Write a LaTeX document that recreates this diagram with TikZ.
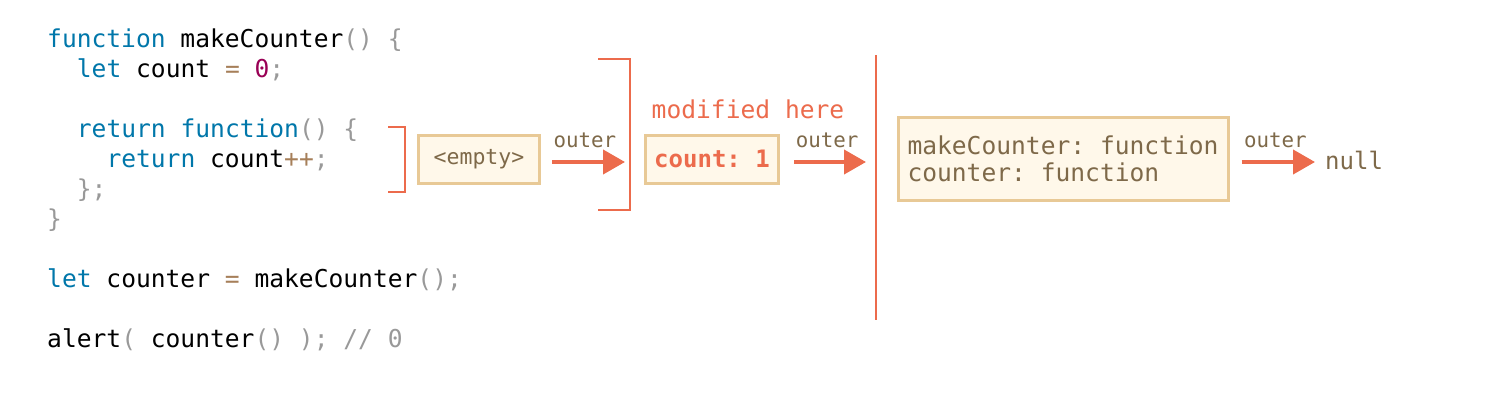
\documentclass[tikz,border=0pt]{standalone}
\usepackage{fontspec}
\setmonofont{DejaVu Sans Mono}
\usetikzlibrary{arrows.meta}
\definecolor{kw}{HTML}{0077AA}
\definecolor{pn}{HTML}{999999}
\definecolor{op}{HTML}{A67F59}
\definecolor{nm}{HTML}{990055}
\definecolor{accent}{HTML}{EC6B4C}
\definecolor{boxline}{HTML}{E8C996}
\definecolor{boxfill}{HTML}{FFF8EA}
\definecolor{brown}{HTML}{7E6949}
\newcommand{\K}[1]{\textcolor{kw}{#1}}
\newcommand{\Pn}[1]{\textcolor{pn}{#1}}
\newcommand{\Op}[1]{\textcolor{op}{#1}}
\newcommand{\Nm}[1]{\textcolor{nm}{#1}}
\tikzset{
  code/.style={anchor=base west, inner sep=0pt, font=\ttfamily\fontsize{24.6}{27}\selectfont, text=black},
  envbox/.style={draw=boxline, fill=boxfill, line width=3pt, inner sep=0pt},
  bracket/.style={draw=accent, line width=2pt},
  link/.style={draw=accent, line width=4pt, -{Triangle[length=22pt,width=24pt]}},
  lbl/.style={inner sep=0pt, text=brown, font=\ttfamily\fontsize{20.8}{22}\selectfont},
}
\begin{document}
\begin{tikzpicture}[x=1pt,y=-1pt]
\path[use as bounding box, fill=white] (0,0) rectangle (1503,402);
% code
\node[code] (l1) at (47,47) {\K{function} makeCounter\Pn{()} \Pn{\{}};
\node[code] (l2) at (76.7,77) {\K{let} count \Op{=} \Nm{0}\Pn{;}};
\node[code] (l4) at (76.7,137) {\K{return} \K{function}\Pn{()} \Pn{\{}};
\node[code] (l5) at (106.3,167) {\K{return} count\Op{++}\Pn{;}};
\node[code] (l6) at (76.7,197) {\Pn{\};}};
\node[code] (l7) at (47,227) {\Pn{\}}};
\node[code] (l9) at (47,287) {\K{let} counter \Op{=} makeCounter\Pn{();}};
\node[code] (l11) at (47,347) {alert\Pn{(} counter\Pn{()} \Pn{);} \Pn{// 0}};
% bracket 1
\coordinate (b1t) at (405,127);
\coordinate (b1b) at (405,192);
\draw[bracket] (388,127) -- (b1t) -- (b1b) -- (388,192);
% bracket 2
\coordinate (b2t) at (630,59);
\coordinate (b2b) at (630,210);
\coordinate (b2m) at (630,162);
\draw[bracket] (598,59) -- (b2t) -- (b2b) -- (598,210);
% vertical line
\coordinate (vt) at (876,55);
\coordinate (vb) at (876,320);
\coordinate (vm) at (876,162);
\draw[bracket] (vt) -- (vb);
% boxes
\node[envbox, minimum width=121pt, minimum height=48pt] (e1) at (479,159)
  {\color{brown}\ttfamily\fontsize{21.5}{23}\selectfont <empty>};
\node[envbox, minimum width=133pt, minimum height=48pt] (e2) at (712,159)
  {\color{accent}\ttfamily\bfseries\fontsize{24}{26}\selectfont count: 1};
\node[inner sep=0pt, text=accent, font=\ttfamily\fontsize{24.6}{27}\selectfont] (mod) at (748,109) {modified here};
\node[envbox, minimum width=330pt, minimum height=83pt, align=left, text=brown,
  font=\ttfamily\fontsize{24.6}{27}\selectfont] (e3) at (1063,158.5)
  {makeCounter: function\\counter: function\hspace*{4\fontcharwd\font`a}};
\node[inner sep=0pt, anchor=west, text=brown, font=\ttfamily\fontsize{24}{26}\selectfont] (null) at (1325,160) {null};
% arrows
\draw[link] ([xshift=11pt]e1.east |- b2m) -- ([xshift=-5pt]b2m) node[lbl, pos=0.45, above=12pt] {outer};
\draw[link] ([xshift=14pt]e2.east |- vm) -- ([xshift=-10pt]vm) node[lbl, pos=0.46, above=12pt] {outer};
\draw[link] ([xshift=12pt]e3.east |- vm) -- ([xshift=-10pt]null.west |- vm) node[lbl, pos=0.46, above=12pt] {outer};
\end{tikzpicture}
\end{document}
